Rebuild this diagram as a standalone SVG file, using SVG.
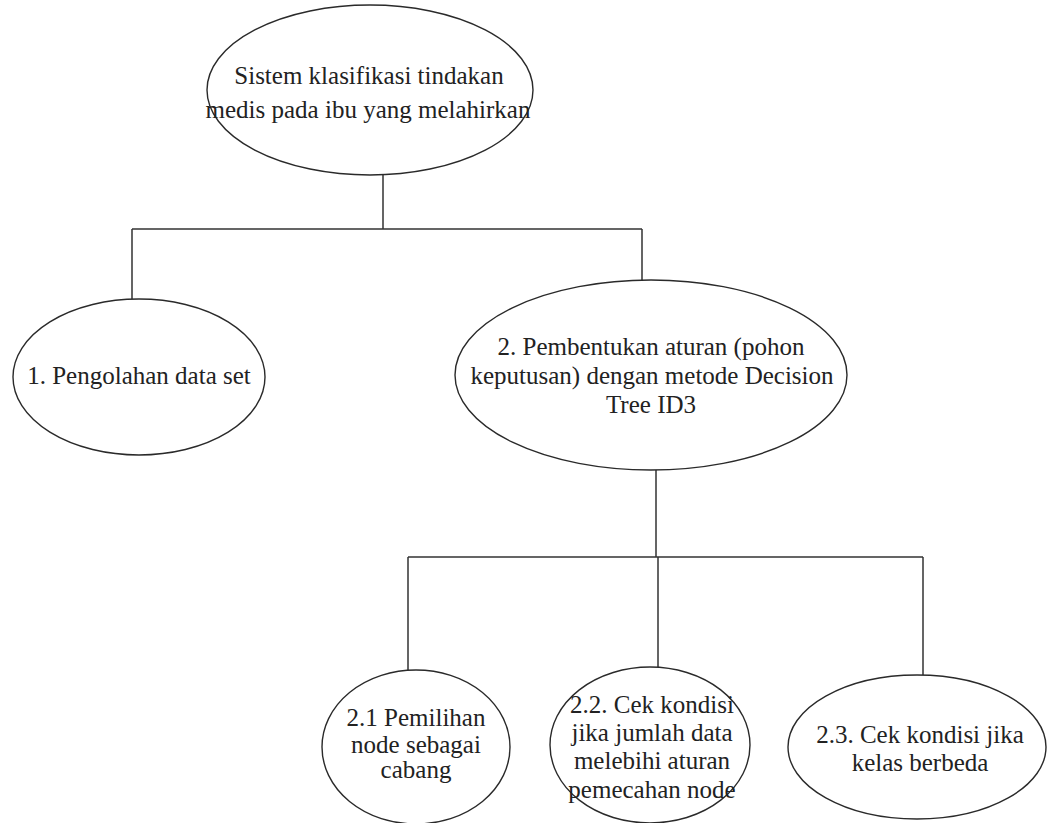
<svg xmlns="http://www.w3.org/2000/svg" width="1047" height="823" viewBox="0 0 1047 823">
  <style>
    .node ellipse { fill: none; stroke: #2a2a2a; stroke-width: 1.4; }
    .node text { font-family: 'Liberation Serif', 'Times New Roman', Times, 'DejaVu Serif', serif; font-size: 25px; fill: #222; text-anchor: middle; }
    #connectors path { fill: none; stroke: #333; stroke-width: 1.5; }
  </style>
  <rect width="1047" height="823" fill="#ffffff"/>

  <!-- tree connectors -->
  <g id="connectors">
    <path d="M383 175 V229 M132 229 H642 M132 229 V299 M642 229 V280"/>
    <path d="M656 470 V557 M408 557 H923 M408 557 V670 M658 557 V667 M923 557 V675"/>
  </g>

  <!-- root -->
  <g id="node-root" class="node">
    <ellipse cx="370" cy="90" rx="163" ry="85"/>
    <text x="369" y="84">Sistem klasifikasi tindakan</text>
    <text x="368" y="118">medis pada ibu yang melahirkan</text>
  </g>

  <!-- level 1 -->
  <g id="node-1" class="node">
    <ellipse cx="139" cy="377" rx="126" ry="78"/>
    <text x="139" y="384">1. Pengolahan data set</text>
  </g>

  <g id="node-2" class="node">
    <ellipse cx="651" cy="375" rx="196" ry="95"/>
    <text x="651" y="355">2. Pembentukan aturan (pohon</text>
    <text x="652" y="384">keputusan) dengan metode Decision</text>
    <text x="651" y="413">Tree ID3</text>
  </g>

  <!-- level 2 -->
  <g id="node-2-1" class="node">
    <ellipse cx="416" cy="747" rx="94" ry="77"/>
    <text x="416" y="726">2.1 Pemilihan</text>
    <text x="416" y="753">node sebagai</text>
    <text x="416" y="778">cabang</text>
  </g>

  <g id="node-2-2" class="node">
    <ellipse cx="650" cy="745" rx="100" ry="78"/>
    <text x="652" y="713">2.2. Cek kondisi</text>
    <text x="652" y="741">jika jumlah data</text>
    <text x="652" y="769">melebihi aturan</text>
    <text x="652" y="798">pemecahan node</text>
  </g>

  <g id="node-2-3" class="node">
    <ellipse cx="917" cy="747" rx="129" ry="72"/>
    <text x="920" y="743">2.3. Cek kondisi jika</text>
    <text x="920" y="771">kelas berbeda</text>
  </g>
</svg>
